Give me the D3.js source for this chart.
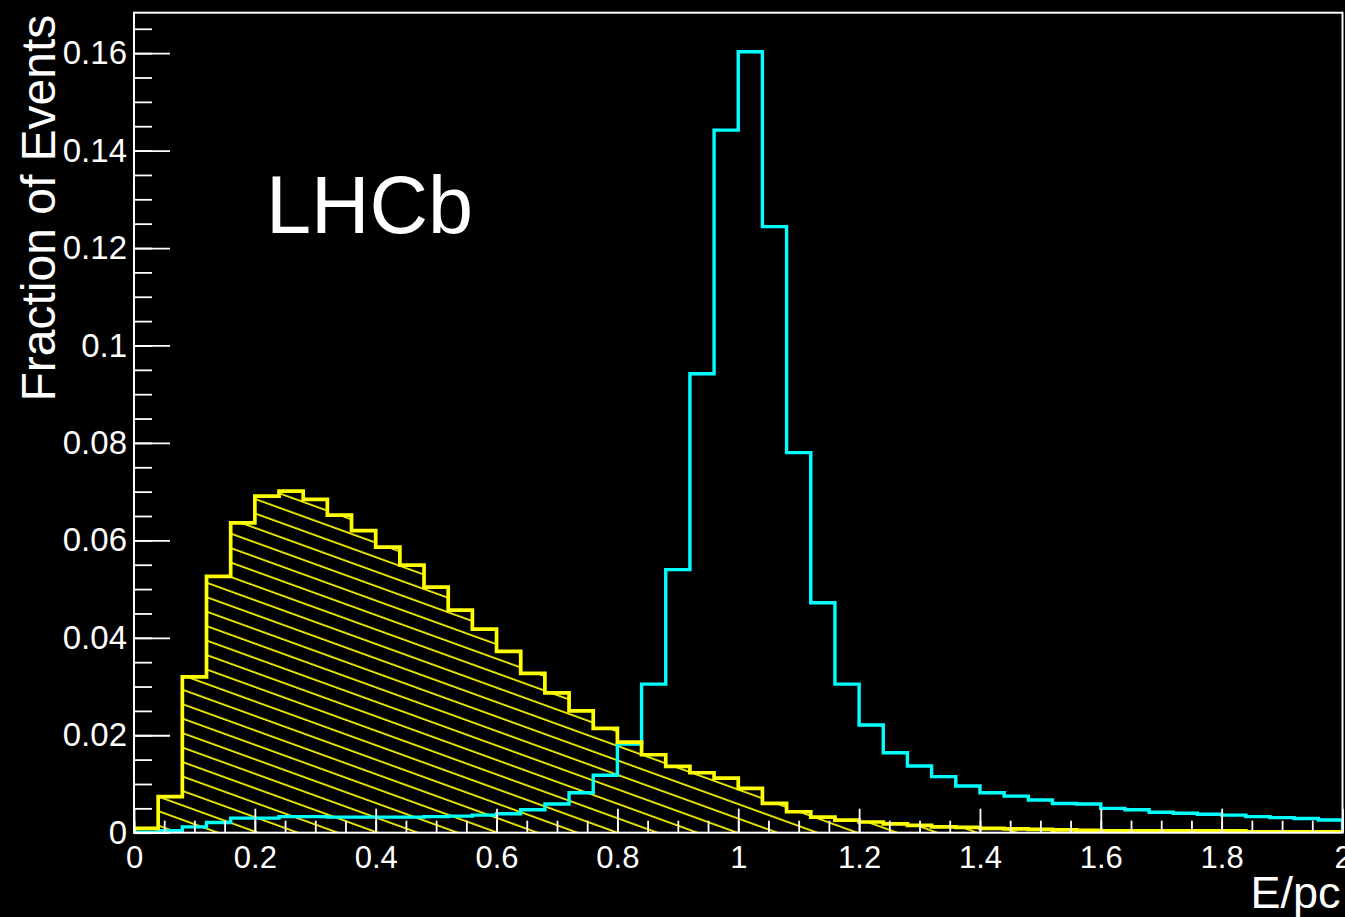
<!DOCTYPE html>
<html>
<head>
<meta charset="utf-8">
<script src="https://cdn.jsdelivr.net/npm/d3@7/dist/d3.min.js"></script>
<style>
  html, body { margin: 0; padding: 0; background: #000; }
  svg { display: block; }
  text { font-family: "Liberation Sans", Arial, Helvetica, sans-serif; fill: #fff; }
</style>
</head>
<body>
<svg id="chart" width="1345" height="917"></svg>
<script>
// ---- Data (bin width 0.04, 50 bins from 0 to 2) ----
const binEdgesStart = 0;
const binWidth = 0.04;
const nBins = 50;

// Yellow (hatched) histogram
const yellowValues = [
  0.0009, 0.0074, 0.0320, 0.0526, 0.0636, 0.0691, 0.0701, 0.0684, 0.0652, 0.0620,
  0.0586, 0.0549, 0.0504, 0.0457, 0.0418, 0.0372, 0.0327, 0.0287, 0.0250, 0.0214,
  0.0186, 0.0160, 0.0136, 0.0123, 0.0112, 0.0091, 0.0060, 0.0043, 0.0032, 0.0026,
  0.0022, 0.0018, 0.0015, 0.0012, 0.0011, 0.0009, 0.0008, 0.0007, 0.0006, 0.0005,
  0.0004, 0.0004, 0.0004, 0.0004, 0.0004, 0.0004, 0.0002, 0.0002, 0.0002, 0.0002
];

// Cyan histogram
const cyanValues = [
  0.0001, 0.0004, 0.0012, 0.0021, 0.0030, 0.0030, 0.0033, 0.0033, 0.0032, 0.0032,
  0.0032, 0.0032, 0.0033, 0.0034, 0.0036, 0.0039, 0.0047, 0.0059, 0.0082, 0.0118,
  0.0182, 0.0305, 0.0540, 0.0942, 0.1442, 0.1603, 0.1244, 0.0780, 0.0472, 0.0305,
  0.0221, 0.0164, 0.0137, 0.0115, 0.0096, 0.0082, 0.0075, 0.0067, 0.0060, 0.0059,
  0.0050, 0.0047, 0.0042, 0.0040, 0.0038, 0.0036, 0.0033, 0.0031, 0.0029, 0.0026
];

const xDomain = [0, 2];
const yDomain = [0, 0.1683];

const xMajorTicks = [0, 0.2, 0.4, 0.6, 0.8, 1, 1.2, 1.4, 1.6, 1.8, 2];
const xTickLabels = ["0", "0.2", "0.4", "0.6", "0.8", "1", "1.2", "1.4", "1.6", "1.8", "2"];
const xMinorStep = 0.05;

const yMajorTicks = [0, 0.02, 0.04, 0.06, 0.08, 0.1, 0.12, 0.14, 0.16];
const yTickLabels = ["0", "0.02", "0.04", "0.06", "0.08", "0.1", "0.12", "0.14", "0.16"];
const yMinorStep = 0.005;

const xTitle = "E/pc";
const yTitle = "Fraction of Events";
const label = "LHCb";

// ---- Layout ----
const svg = d3.select("#chart");
const W = 1345, H = 917;
const pL = 134, pR = 1342.5, pT = 12.7, pB = 832.7;

svg.append("rect").attr("width", W).attr("height", H).attr("fill", "#000");

const x = d3.scaleLinear().domain(xDomain).range([pL, pR]);
const y = d3.scaleLinear().domain(yDomain).range([pB, pT]);

// Hatch pattern
const defs = svg.append("defs");
const hatchSpacing = 13.6;
const hatchAngle = 19.9;
const pat = defs.append("pattern")
  .attr("id", "hatch")
  .attr("patternUnits", "userSpaceOnUse")
  .attr("width", 200)
  .attr("height", hatchSpacing)
  .attr("patternTransform", `translate(178.3,${pB}) rotate(${hatchAngle}) translate(0,${-hatchSpacing / 2})`);
pat.append("line")
  .attr("x1", -10).attr("x2", 210)
  .attr("y1", hatchSpacing / 2).attr("y2", hatchSpacing / 2)
  .attr("stroke", "#ffff00").attr("stroke-width", 1.7);

defs.append("clipPath").attr("id", "plotclip")
  .append("rect").attr("x", pL).attr("y", pT)
  .attr("width", pR - pL).attr("height", pB - pT);

function stepPath(values, closed) {
  const p = d3.path();
  p.moveTo(x(binEdgesStart), y(0));
  values.forEach((v, i) => {
    const x0 = binEdgesStart + i * binWidth;
    p.lineTo(x(x0), y(v));
    p.lineTo(x(x0 + binWidth), y(v));
  });
  p.lineTo(x(binEdgesStart + nBins * binWidth), y(0));
  if (closed) p.closePath();
  return p.toString();
}

const plot = svg.append("g").attr("clip-path", "url(#plotclip)");

// Hatched fill of yellow
plot.append("path")
  .attr("d", stepPath(yellowValues, true))
  .attr("fill", "url(#hatch)")
  .attr("stroke", "none");

// Cyan outline
plot.append("path")
  .attr("d", stepPath(cyanValues, false))
  .attr("fill", "none")
  .attr("stroke", "#00ffff")
  .attr("stroke-width", 3.4)
  .attr("stroke-linejoin", "miter");

// Yellow outline
plot.append("path")
  .attr("d", stepPath(yellowValues, false))
  .attr("fill", "none")
  .attr("stroke", "#ffff00")
  .attr("stroke-width", 3.7)
  .attr("stroke-linejoin", "miter");

// ---- Axes ----
const xMinor = d3.range(0, 2 + 1e-9, xMinorStep).map(v => +v.toFixed(4));
const yMinor = d3.range(0, yDomain[1], yMinorStep).map(v => +v.toFixed(4));

const xMinorAxis = d3.axisBottom(x).tickValues(xMinor).tickSizeInner(-12).tickSizeOuter(0).tickFormat("");
const xMajorAxis = d3.axisBottom(x).tickValues(xMajorTicks).tickSizeInner(-24).tickSizeOuter(0)
  .tickPadding(13).tickFormat((d, i) => xTickLabels[i]);

const gxm = svg.append("g").attr("transform", `translate(0,${pB})`).call(xMinorAxis);
const gx = svg.append("g").attr("transform", `translate(0,${pB})`).call(xMajorAxis);

const yMinorAxis = d3.axisLeft(y).tickValues(yMinor).tickSizeInner(-18).tickSizeOuter(0).tickFormat("");
const yMajorAxis = d3.axisLeft(y).tickValues(yMajorTicks).tickSizeInner(-36).tickSizeOuter(0)
  .tickPadding(7).tickFormat((d, i) => yTickLabels[i]);

const gym = svg.append("g").attr("transform", `translate(${pL},0)`).call(yMinorAxis);
const gy = svg.append("g").attr("transform", `translate(${pL},0)`).call(yMajorAxis);

[gxm, gx, gym, gy].forEach(g => {
  g.select(".domain").remove();
  g.selectAll("line").attr("stroke", "#fff").attr("stroke-width", 1.8);
});
gx.selectAll("text").attr("font-size", 31).attr("fill", "#fff");
gy.selectAll("text").attr("font-size", 33).attr("fill", "#fff");

// Frame
svg.append("rect")
  .attr("x", pL).attr("y", pT)
  .attr("width", pR - pL).attr("height", pB - pT)
  .attr("fill", "none").attr("stroke", "#fff").attr("stroke-width", 2);

// Titles
svg.append("text")
  .attr("x", pR - 2).attr("y", 908)
  .attr("text-anchor", "end")
  .attr("font-size", 45)
  .text(xTitle);

svg.append("text")
  .attr("transform", `translate(55,${pT + 2}) rotate(-90)`)
  .attr("text-anchor", "end")
  .attr("font-size", 48)
  .text(yTitle);

svg.append("text")
  .attr("x", 266).attr("y", 233)
  .attr("font-size", 81)
  .text(label);
</script>
</body>
</html>
